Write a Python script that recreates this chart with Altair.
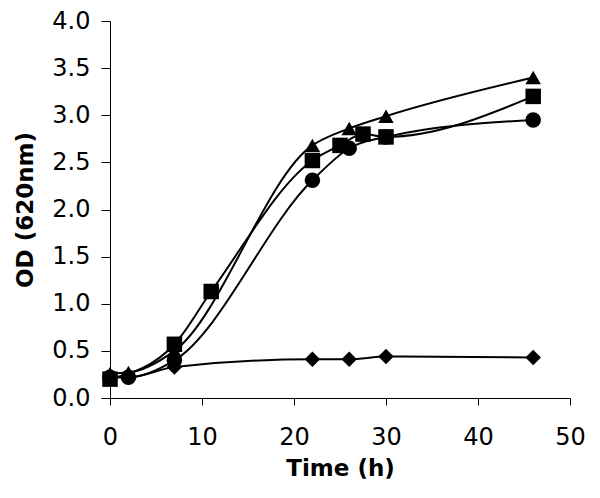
import altair as alt
import pandas as pd

# Series
tri_t = [0, 2, 7, 22, 26, 30, 46]
tri_od = [0.26, 0.27, 0.50, 2.68, 2.86, 2.99, 3.40]

sq_t = [0, 7, 11, 22, 25, 27.5, 30, 46]
sq_od = [0.20, 0.57, 1.13, 2.52, 2.68, 2.80, 2.77, 3.20]

cir_t = [0, 2, 7, 22, 26, 30, 46]
cir_od = [0.22, 0.22, 0.40, 2.31, 2.65, 2.77, 2.95]

dia_t = [0, 2, 7, 22, 26, 30, 46]
dia_od = [0.22, 0.22, 0.33, 0.41, 0.41, 0.44, 0.43]

series_names = ["A", "B", "C", "D"]
shapes = ["triangle-up", "square", "circle", "diamond"]

rows = []
for name, ts, ods in zip(series_names, [tri_t, sq_t, cir_t, dia_t], [tri_od, sq_od, cir_od, dia_od]):
    for t, o in zip(ts, ods):
        rows.append({"series": name, "time": t, "od": o})
df = pd.DataFrame(rows)

FONT = "DejaVu Sans"

x = alt.X("time:Q", scale=alt.Scale(domain=[0, 50], nice=False),
          axis=alt.Axis(values=[0, 10, 20, 30, 40, 50], title="Time (h)",
                        format="d", grid=False, tickSize=7, labelPadding=20,
                        labelFlush=False, titlePadding=8))
y = alt.Y("od:Q", scale=alt.Scale(domain=[0, 4], nice=False),
          axis=alt.Axis(values=[0, 0.5, 1, 1.5, 2, 2.5, 3, 3.5, 4], title="OD (620nm)",
                        format=".1f", grid=False, tickSize=9, labelPadding=11,
                        labelFlush=False, titlePadding=14))

lines = alt.Chart(df).mark_line(color="black", strokeWidth=2, interpolate="monotone").encode(
    x=x, y=y, detail="series:N", order="time:Q")

points = alt.Chart(df).mark_point(filled=True, color="black", opacity=1, size=240).encode(
    x=x, y=y,
    shape=alt.Shape("series:N", scale=alt.Scale(domain=series_names, range=shapes), legend=None))

chart = alt.layer(lines, points).properties(
    width=460, height=377,
    autosize=alt.AutoSizeParams(type="none"),
    padding={"left": 102, "top": 13, "right": 18, "bottom": 90},
).configure_view(stroke=None).configure_axis(
    domainColor="black", tickColor="black", domainWidth=1, tickWidth=1,
    labelFont=FONT, titleFont=FONT, labelFontSize=24, titleFontSize=23,
    labelColor="black", titleColor="black", titleFontWeight="bold",
)

chart.save("out.html", embed_options={"renderer": "svg", "actions": False})
